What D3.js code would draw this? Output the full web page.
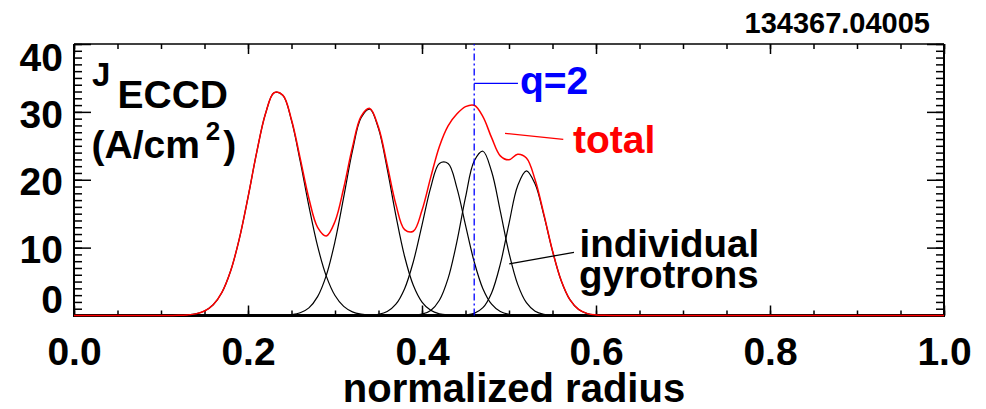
<!DOCTYPE html>
<html>
<head>
<meta charset="utf-8">
<script src="https://cdn.jsdelivr.net/npm/d3@7"></script>
<style>
  html, body { margin: 0; padding: 0; background: #fff; }
  svg { display: block; }
  text { font-family: "Liberation Sans", Arial, Helvetica, sans-serif; font-weight: bold; }
</style>
</head>
<body>
<svg id="chart" width="986" height="409"></svg>
<script>
// ---------------- data ----------------
const radius = [0.10,0.11,0.12,0.13,0.14,0.15,0.16,0.17,0.18,0.19,
                0.20,0.21,0.22,0.23,0.24,0.25,0.26,0.27,0.28,0.29,
                0.30,0.31,0.32,0.33,0.34,0.35,0.36,0.37,0.38,0.39,
                0.40,0.41,0.42,0.43,0.44,0.45,0.46,0.47,0.48,0.49,
                0.50,0.51,0.52,0.53,0.54,0.55,0.56,0.57,0.58,0.59,
                0.60,0.61,0.62,0.63,0.64,0.65];

const gyrotron1 = [0.00,0.01,0.02,0.08,0.24,0.66,1.58,3.40,6.55,11.29,
                   17.41,24.03,29.68,32.81,32.44,28.71,22.74,16.11,10.21,5.80,
                   2.94,1.34,0.54,0.20,0.06,0.02,0,0,0,0,
                   0,0,0,0,0,0,0,0,0,0,
                   0,0,0,0,0,0,0,0,0,0,
                   0,0,0,0,0,0];
const gyrotron2 = [0,0,0,0,0,0,0,0,0,0,
                   0,0.00,0.00,0.01,0.03,0.12,0.40,1.13,2.78,5.91,
                   10.91,17.45,24.22,29.14,30.41,27.53,21.61,14.71,8.69,4.45,
                   1.98,0.76,0.25,0.07,0.02,0,0,0,0,0,
                   0,0,0,0,0,0,0,0,0,0,
                   0,0,0,0,0,0];
const gyrotron3 = [0,0,0,0,0,0,0,0,0,0,
                   0,0,0,0,0,0,0,0,0,0,
                   0,0,0,0.01,0.04,0.17,0.58,1.66,3.95,7.91,
                   13.31,18.84,22.41,22.41,18.84,13.31,7.91,3.95,1.66,0.58,
                   0.17,0.04,0.01,0,0,0,0,0,0,0,
                   0,0,0,0,0,0];
const gyrotron4 = [0,0,0,0,0,0,0,0,0,0,
                   0,0,0,0,0,0,0,0,0,0,
                   0,0,0,0,0,0,0,0,0.01,0.05,
                   0.20,0.75,2.25,5.47,10.81,17.39,22.75,24.20,21.21,15.38,
                   9.23,4.59,1.89,0.64,0.18,0.04,0.01,0,0,0,
                   0,0,0,0,0,0];
const gyrotron5 = [0,0,0,0,0,0,0,0,0,0,
                   0,0,0,0,0,0,0,0,0,0,
                   0,0,0,0,0,0,0,0,0,0,
                   0,0,0,0,0.01,0.07,0.31,1.15,3.33,7.56,
                   13.54,19.13,21.30,19.36,14.79,9.50,5.13,2.33,0.89,0.28,
                   0.08,0.02,0,0,0,0];
const totalJ = [0.00,0.01,0.02,0.08,0.24,0.66,1.58,3.40,6.55,11.29,
                17.41,24.03,29.68,32.82,32.47,28.83,23.14,17.24,12.99,11.71,
                13.85,18.79,24.76,29.35,30.51,27.72,22.19,16.37,12.65,12.41,
                15.49,20.35,24.91,27.95,29.68,30.77,30.97,29.30,26.20,23.52,
                22.94,23.76,23.20,20.00,14.97,9.54,5.14,2.33,0.89,0.28,
                0.08,0.02,0,0,0,0];

const xDomain = [0, 1];
const yDomain = [0, 40];
const xTickValues = [0.0, 0.2, 0.4, 0.6, 0.8, 1.0];
const yTickValues = [0, 10, 20, 30, 40];
const qRadius = 0.46;
const shotLabel = "134367.04005";

// ---------------- layout ----------------
const svg = d3.select("#chart");
const L = 74, R = 944, T = 44, B = 315.5;
const x = d3.scaleLinear().domain(xDomain).range([L, R]);
const y = d3.scaleLinear().domain(yDomain).range([B, T]);

const xMinor = d3.range(0, 1.0001, 0.05);
const yMinor = d3.range(0, 40.001, 1);

function styleAxis(g) {
  g.select(".domain").remove();
  g.selectAll(".tick line").attr("stroke", "#000").attr("stroke-width", 1.5);
  g.selectAll("text").attr("fill", "#000").attr("font-size", 39)
    .attr("font-family", "'Liberation Sans', Arial, Helvetica, sans-serif")
    .attr("font-weight", "bold");
}

// bottom axis
svg.append("g").attr("transform", `translate(0,${B})`)
  .call(d3.axisBottom(x).tickValues(xMinor).tickSize(-5).tickSizeOuter(0).tickFormat(""))
  .call(styleAxis);
svg.append("g").attr("transform", `translate(0,${B})`)
  .call(d3.axisBottom(x).tickValues(xTickValues).tickSize(-10).tickSizeOuter(0)
        .tickPadding(22).tickFormat(d3.format(".1f")))
  .call(styleAxis);
// top axis
svg.append("g").attr("transform", `translate(0,${T})`)
  .call(d3.axisTop(x).tickValues(xMinor).tickSize(-5).tickSizeOuter(0).tickFormat(""))
  .call(styleAxis);
svg.append("g").attr("transform", `translate(0,${T})`)
  .call(d3.axisTop(x).tickValues(xTickValues).tickSize(-10).tickSizeOuter(0).tickFormat(""))
  .call(styleAxis);
// left axis
svg.append("g").attr("transform", `translate(${L},0)`)
  .call(d3.axisLeft(y).tickValues(yMinor).tickSize(-8).tickSizeOuter(0).tickFormat(""))
  .call(styleAxis);
const yAx = svg.append("g").attr("transform", `translate(${L},0)`)
  .call(d3.axisLeft(y).tickValues(yTickValues).tickSize(-17).tickSizeOuter(0)
        .tickPadding(11).tickFormat(d3.format("d")))
  .call(styleAxis);
yAx.selectAll("text")
  .attr("y", d => d === 0 ? -17 : (d === 40 ? 13 : 1.5))
  .attr("dy", "0.35em");
// right axis
svg.append("g").attr("transform", `translate(${R},0)`)
  .call(d3.axisRight(y).tickValues(yMinor).tickSize(-8).tickSizeOuter(0).tickFormat(""))
  .call(styleAxis);
svg.append("g").attr("transform", `translate(${R},0)`)
  .call(d3.axisRight(y).tickValues(yTickValues).tickSize(-17).tickSizeOuter(0).tickFormat(""))
  .call(styleAxis);

// frame
svg.append("line").attr("x1", L).attr("x2", R).attr("y1", T).attr("y2", T).attr("stroke", "#000").attr("stroke-width", 1.5);
svg.append("line").attr("x1", L).attr("x2", L).attr("y1", T).attr("y2", B).attr("stroke", "#000").attr("stroke-width", 2);
svg.append("line").attr("x1", R).attr("x2", R).attr("y1", T).attr("y2", B).attr("stroke", "#000").attr("stroke-width", 2);
svg.append("line").attr("x1", L - 1).attr("x2", R + 1).attr("y1", B).attr("y2", B).attr("stroke", "#000").attr("stroke-width", 3);

// curves
const line = d3.line().x(d => x(d[0])).y(d => y(d[1])).curve(d3.curveCatmullRom.alpha(0.5));
const gyrotrons = [gyrotron1, gyrotron2, gyrotron3, gyrotron4, gyrotron5];
gyrotrons.forEach(vals => {
  svg.append("path")
    .attr("d", line(radius.map((r, i) => [r, vals[i]])))
    .attr("fill", "none").attr("stroke", "#000").attr("stroke-width", 1.2);
});
const totalPts = [[xDomain[0], 0]].concat(radius.map((r, i) => [r, totalJ[i]]), [[xDomain[1], 0]]);
svg.append("path")
  .attr("d", line(totalPts))
  .attr("fill", "none").attr("stroke", "#ff0000").attr("stroke-width", 1.5);

// q=2 marker
svg.append("line")
  .attr("x1", x(qRadius)).attr("x2", x(qRadius)).attr("y1", y(0)).attr("y2", y(40))
  .attr("stroke", "#0000ff").attr("stroke-width", 1.3).attr("stroke-dasharray", "7,3,2,3");
svg.append("line")
  .attr("x1", x(qRadius)).attr("x2", x(0.5103)).attr("y1", y(34.2)).attr("y2", y(34.2))
  .attr("stroke", "#0000ff").attr("stroke-width", 1.3);
svg.append("text").attr("x", 520).attr("y", 94).attr("font-size", 39).attr("fill", "#0000ff").text("q=2");

// total label
svg.append("line")
  .attr("x1", x(0.4954)).attr("y1", y(26.84)).attr("x2", x(0.5624)).attr("y2", y(25.96))
  .attr("stroke", "#ff0000").attr("stroke-width", 1.3);
svg.append("text").attr("x", 573).attr("y", 152.7).attr("font-size", 39).attr("fill", "#ff0000").text("total");

// individual gyrotrons label
svg.append("line")
  .attr("x1", x(0.5003)).attr("y1", y(7.59)).attr("x2", x(0.5747)).attr("y2", y(9.31))
  .attr("stroke", "#000").attr("stroke-width", 1.3);
svg.append("text").attr("x", 579.5).attr("y", 257).attr("font-size", 38.5).attr("fill", "#000").text("individual");
svg.append("text").attr("x", 579).attr("y", 287.5).attr("font-size", 38.5).attr("fill", "#000").text("gyrotrons");

// y label inside plot
svg.append("text").attr("x", 92).attr("y", 86).attr("font-size", 33).text("J");
svg.append("text").attr("x", 117.5).attr("y", 108).attr("font-size", 39).text("ECCD");
const unit = svg.append("text").attr("x", 91.5).attr("y", 158).attr("font-size", 39);
unit.append("tspan").text("(A/cm");
unit.append("tspan").attr("font-size", 26).attr("dx", 6).attr("dy", -18).text("2");
unit.append("tspan").attr("font-size", 39).attr("dx", 3).attr("dy", 18).text(")");

// x title
svg.append("text").attr("x", 514).attr("y", 402).attr("font-size", 40)
  .attr("text-anchor", "middle").text("normalized radius");

// shot label
svg.append("text").attr("x", 930).attr("y", 33).attr("font-size", 29)
  .attr("text-anchor", "end").text(shotLabel);
</script>
</body>
</html>
